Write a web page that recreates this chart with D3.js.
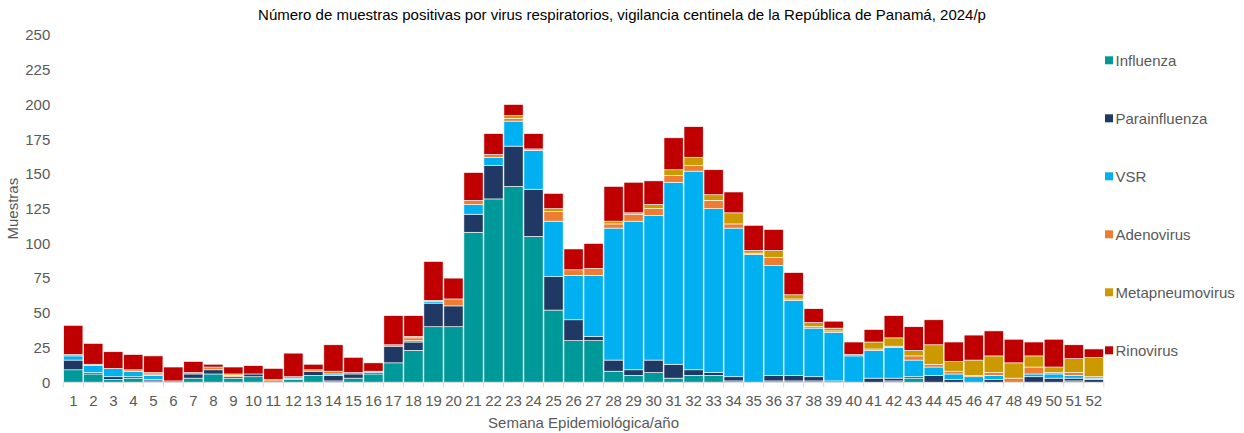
<!DOCTYPE html>
<html>
<head>
<meta charset="utf-8">
<script src="https://cdn.jsdelivr.net/npm/d3@7"></script>
<style>
  html, body { margin: 0; padding: 0; background: #fff; }
  svg { display: block; font-family: "Liberation Sans", Arial, sans-serif; }
</style>
</head>
<body>
<svg id="chart" width="1244" height="433"></svg>
<script>
const weeks = d3.range(1, 53).map(String);
const seriesNames = ["Influenza", "Parainfluenza", "VSR", "Adenovirus", "Metapneumovirus", "Rinovirus"];
const colors = ["#009999", "#1F3864", "#00B0F0", "#ED7D31", "#CC9900", "#C00000"];

const influenza = [9,6,2,3,1,1,3,6,3,4,1,2,5,1,3,6,14,23,40,40,108,132,141,105,52,30,30,8,5,7,3,5,5,1,0,1,1,1,1,0,0,1,3,0,0,0,0,0,0,0,1,0];
const parainfluenza = [7,1,2,1,1,0,3,3,1,2,0,0,3,4,3,1,12,6,17,15,13,24,29,34,24,15,3,8,4,9,10,4,2,3,0,4,4,3,0,0,3,2,1,5,2,0,2,0,4,3,2,2];
const vsr = [3,5,6,4,3,0,0,0,0,0,0,1,0,1,1,1,0,1,1,0,7,6,18,28,40,32,44,95,107,104,131,143,118,107,92,79,54,35,35,19,20,22,12,6,4,4,3,0,2,3,2,1];
const adenovirus = [1,1,0,1,1,0,1,2,1,0,1,1,1,2,0,0,0,2,1,5,3,2,2,1,7,4,5,3,5,5,5,4,6,3,1,6,1,1,1,1,1,1,3,2,2,1,2,3,5,1,2,1];
const metapneumovirus = [0,0,0,0,1,0,0,0,1,0,0,0,0,0,0,0,1,1,0,0,0,0,2,0,2,0,0,2,1,3,4,6,4,8,2,5,3,3,2,0,5,6,4,14,7,11,12,11,8,4,10,14];
const rinovirus = [21,15,12,11,12,10,8,2,5,6,8,17,4,19,11,6,21,15,28,15,20,15,8,11,11,15,18,25,22,17,23,22,18,15,18,15,16,10,5,9,9,16,17,18,14,18,18,17,10,20,10,6];
const yTicks = [0, 25, 50, 75, 100, 125, 150, 175, 200, 225, 250];

const seriesData = [influenza, parainfluenza, vsr, adenovirus, metapneumovirus, rinovirus];
const table = weeks.map((w, i) => {
  const row = { week: w };
  seriesNames.forEach((s, k) => row[s] = seriesData[k][i]);
  return row;
});

const svg = d3.select("#chart");
const margin = { left: 63.3, right: 1103.8, top: 35, bottom: 382.3 };
const fs = 15;

const x = d3.scaleBand().domain(weeks).range([margin.left, margin.right]).paddingInner(0.04).paddingOuter(0.02);
const y = d3.scaleLinear().domain([0, 250]).range([margin.bottom, margin.top]);
const color = d3.scaleOrdinal().domain(seriesNames).range(colors);

const layers = d3.stack().keys(seriesNames)(table);

svg.append("g").selectAll("g")
  .data(layers).join("g")
  .attr("fill", d => color(d.key))
  .selectAll("rect")
  .data(d => d).join("rect")
  .attr("x", d => x(d.data.week))
  .attr("width", x.bandwidth())
  .attr("y", d => y(d[1]))
  .attr("height", d => Math.max(0, y(d[0]) - y(d[1])))
  .attr("stroke", "#fff")
  .attr("stroke-width", 0.6);

// Y axis (labels only)
const yAxis = svg.append("g")
  .attr("transform", `translate(${margin.left - 13},0)`)
  .call(d3.axisLeft(y).tickValues(yTicks).tickSize(0).tickPadding(0));
yAxis.select(".domain").remove();
yAxis.selectAll("text").attr("fill", "#595959").attr("font-size", fs).attr("font-family", "Liberation Sans, Arial, sans-serif");

// X axis
const xAxisG = svg.append("g").attr("transform", `translate(0,${margin.bottom})`);
xAxisG.append("line")
  .attr("x1", margin.left).attr("x2", margin.right)
  .attr("stroke", "#D9D9D9").attr("stroke-width", 1);
const boundaries = weeks.map(w => x(w) - x.step() * x.paddingInner() / 2).concat([margin.right]);
xAxisG.selectAll("line.tick")
  .data(boundaries).join("line")
  .attr("class", "tick")
  .attr("x1", d => d).attr("x2", d => d)
  .attr("y1", 0).attr("y2", 5)
  .attr("stroke", "#D9D9D9");
xAxisG.selectAll("text")
  .data(weeks).join("text")
  .attr("x", d => x(d) + x.bandwidth() / 2)
  .attr("y", 23.5)
  .attr("text-anchor", "middle")
  .attr("fill", "#595959")
  .attr("font-size", fs)
  .text(d => d);

// Titles
svg.append("text")
  .attr("x", 622).attr("y", 19.5)
  .attr("text-anchor", "middle")
  .attr("font-size", 15)
  .attr("fill", "#000")
  .text("Número de muestras positivas por virus respiratorios, vigilancia centinela de la República de Panamá, 2024/p");

svg.append("text")
  .attr("x", (margin.left + margin.right) / 2).attr("y", 427.5)
  .attr("text-anchor", "middle")
  .attr("font-size", fs)
  .attr("fill", "#595959")
  .text("Semana Epidemiológica/año");

svg.append("text")
  .attr("transform", `translate(18,${(margin.top + margin.bottom) / 2}) rotate(-90)`)
  .attr("text-anchor", "middle")
  .attr("font-size", fs)
  .attr("fill", "#595959")
  .text("Muestras");

// Legend
const legend = svg.append("g");
seriesNames.forEach((s, i) => {
  const ly = 60.3 + i * 58;
  legend.append("rect")
    .attr("x", 1105).attr("y", ly - 4)
    .attr("width", 8).attr("height", 8)
    .attr("fill", color(s));
  legend.append("text")
    .attr("x", 1115.5).attr("y", ly + 5.3)
    .attr("font-size", fs)
    .attr("fill", "#595959")
    .text(s);
});
</script>
</body>
</html>
